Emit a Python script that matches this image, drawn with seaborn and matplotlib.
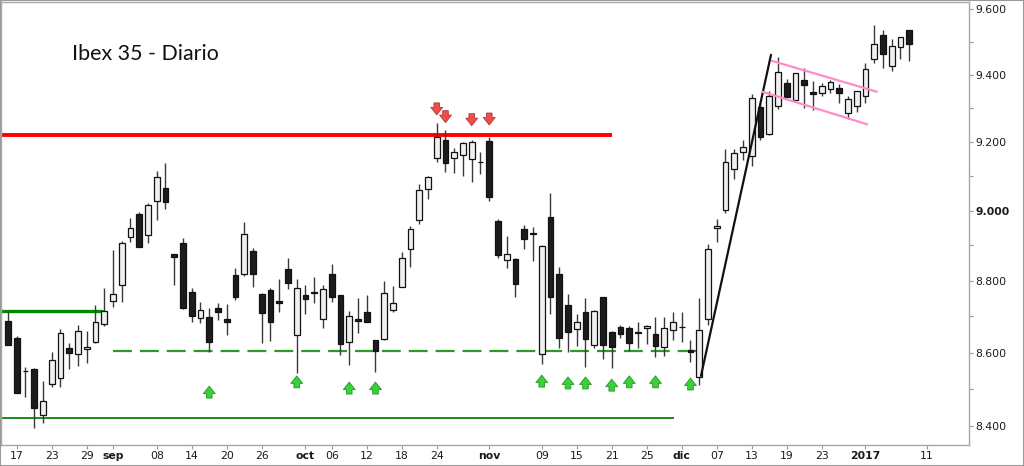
import numpy as np
import pandas as pd
import matplotlib
matplotlib.use("Agg")
import matplotlib.pyplot as plt
import seaborn as sns
from matplotlib.patches import Rectangle
from matplotlib.ticker import FixedLocator, NullFormatter

# ---------------- data ----------------
# trading calendar (Bolsa de Madrid), 26 Dec 2016 closed
calendar = [d for d in pd.bdate_range("2016-08-16", "2017-01-20") if d != pd.Timestamp("2016-12-26")]

opens = [8688, 8641, 8550, 8555, 8429, 8513, 8529, 8612, 8595, 8609,
         8628, 8680, 8744, 8788, 8924, 8990, 8930, 9029, 9064, 8876,
         8906, 8769, 8697, 8699, 8723, 8694, 8815, 8819, 8884, 8764,
         8774, 8744, 8832, 8648, 8760, 8767, 8692, 8820, 8760, 8630,
         8692, 8713, 8635, 8637, 8718, 8783, 8889, 8973, 9062, 9154,
         9206, 9152, 9162, 9149, 9142, 9204, 8971, 8859, 8861, 8948,
         8936, 8595, 8982, 8819, 8731, 8664, 8712, 8621, 8753, 8658,
         8672, 8667, 8656, 8669, 8651, 8615, 8662, 8672, 8607, 8534,
         8692, 8950, 9002, 9120, 9170, 9159, 9304, 9222, 9306, 9375,
         9325, 9384, 9348, 9346, 9357, 9359, 9286, 9307, 9336, 9446,
         9521, 9427, 9483, 9536]
highs = [8715, 8647, 8559, 8557, 8523, 8602, 8664, 8627, 8676, 8659,
         8732, 8780, 8887, 8914, 8979, 8996, 9022, 9114, 9137, 8877,
         8922, 8780, 8741, 8724, 8737, 8734, 8835, 8966, 8894, 8765,
         8779, 8805, 8864, 8805, 8788, 8810, 8788, 8846, 8761, 8715,
         8752, 8760, 8636, 8799, 8785, 8880, 8956, 9076, 9100, 9255,
         9235, 9183, 9201, 9206, 9170, 9214, 8975, 8928, 8865, 8959,
         8952, 8900, 9052, 8838, 8764, 8706, 8752, 8718, 8754, 8660,
         8676, 8674, 8684, 8676, 8699, 8699, 8713, 8712, 8635, 8751,
         8904, 8975, 9178, 9178, 9206, 9342, 9314, 9351, 9453, 9386,
         9405, 9419, 9381, 9375, 9384, 9372, 9336, 9352, 9434, 9551,
         9536, 9507, 9515, 9537]
lows = [8621, 8488, 8479, 8394, 8407, 8507, 8507, 8554, 8563, 8570,
        8626, 8673, 8727, 8741, 8911, 8895, 8906, 8973, 9004, 8788,
        8721, 8684, 8683, 8602, 8690, 8648, 8746, 8813, 8783, 8627,
        8632, 8713, 8776, 8543, 8706, 8738, 8669, 8741, 8593, 8566,
        8655, 8685, 8547, 8635, 8713, 8782, 8840, 8961, 9032, 9142,
        9113, 9108, 9100, 9083, 9106, 9029, 8864, 8835, 8754, 8889,
        8857, 8569, 8706, 8613, 8601, 8619, 8561, 8612, 8582, 8557,
        8639, 8605, 8613, 8623, 8587, 8591, 8635, 8630, 8575, 8511,
        8675, 8911, 8992, 9091, 9147, 9129, 9206, 9220, 9296, 9332,
        9318, 9299, 9294, 9336, 9346, 9315, 9268, 9289, 9314, 9436,
        9419, 9412, 9446, 9441]
closes = [8621, 8488, 8548, 8449, 8467, 8580, 8653, 8599, 8659, 8616,
          8684, 8716, 8762, 8906, 8951, 8897, 9016, 9098, 9024, 8867,
          8723, 8701, 8718, 8630, 8713, 8685, 8755, 8933, 8820, 8710,
          8685, 8738, 8795, 8779, 8750, 8765, 8777, 8755, 8624, 8702,
          8688, 8685, 8605, 8766, 8738, 8864, 8946, 9060, 9098, 9215,
          9138, 9171, 9196, 9199, 9140, 9038, 8873, 8877, 8790, 8918,
          8933, 8899, 8755, 8639, 8656, 8685, 8637, 8716, 8621, 8615,
          8651, 8625, 8655, 8674, 8619, 8667, 8685, 8670, 8602, 8662,
          8891, 8957, 9142, 9166, 9184, 9329, 9214, 9336, 9409, 9333,
          9404, 9369, 9341, 9366, 9377, 9345, 9328, 9351, 9416, 9493,
          9462, 9487, 9514, 9492]

tick_dates = ["2016-08-17", "2016-08-23", "2016-08-29", "2016-09-01", "2016-09-08",
              "2016-09-14", "2016-09-20", "2016-09-26", "2016-10-03", "2016-10-06",
              "2016-10-12", "2016-10-18", "2016-10-24", "2016-11-01", "2016-11-09",
              "2016-11-15", "2016-11-21", "2016-11-25", "2016-12-01", "2016-12-07",
              "2016-12-13", "2016-12-19", "2016-12-23", "2017-01-02", "2017-01-11"]
tick_labels = ["17", "23", "29", "sep", "08", "14", "20", "26", "oct", "06", "12", "18",
               "24", "nov", "09", "15", "21", "25", "dic", "07", "13", "19", "23", "2017", "11"]
bold_labels = {"sep", "oct", "nov", "dic", "2017"}

y_ticks = [8400, 8600, 8800, 9000, 9200, 9400, 9600]
y_minor = [8500, 8700, 8900, 9100, 9300, 9500]

# horizontal support / resistance levels
resistance = 9220
support_top = 8714
support_dashed = 8603
support_low = 8421

# trend and channel lines (bar index, price)
trend_x, trend_y = [79.2, 87.2], [8536, 9460]
chan_up_x, chan_up_y = [87.3, 99.3], [9442, 9349]
chan_lo_x, chan_lo_y = [86.2, 98.2], [9349, 9252]

# arrows (bar index, tip price)
down_idx = [49, 50, 53, 55]
down_tip = [9280, 9257, 9248, 9250]
up_idx = [23, 33, 39, 42, 61, 64, 66, 69, 71, 74, 78]
up_tip = [8508, 8536, 8519, 8519, 8538, 8533, 8533, 8527, 8536, 8536, 8530]

# ---------------- figure ----------------
sns.set_theme(style="white")
plt.rcParams["font.family"] = ["DejaVu Sans"]

W, H = 1024, 466
fig = plt.figure(figsize=(W / 100, H / 100), dpi=100)
ax = fig.add_axes([1 / W, (H - 444.5) / H, 968 / W, (444.5 - 2) / H])

n = len(opens)
idx = np.arange(n)
date_pos = {d.strftime("%Y-%m-%d"): i for i, d in enumerate(calendar)}
o = np.array(opens, float); c = np.array(closes, float)
h = np.array(highs, float); l = np.array(lows, float)

ax.set_yscale("log")
ax.set_xlim(-0.8, 109.83)
ax.set_ylim(8350.5, 9621.5)

# levels
xl = -0.8
ax.hlines(resistance, xl, 69.0, color="#ff0000", lw=2.8, zorder=2)
ax.hlines(support_top, xl, 10.9, color="#008a00", lw=2.4, zorder=2)
ax.hlines(support_low, xl, 76.1, color="#1a8c1a", lw=1.4, zorder=2)
ax.hlines(support_dashed, 12.0, 78.7, color="#2a9a2a", lw=1.6,
          linestyles=(0, (8.5, 3.6)), zorder=2)

# candles
ax.vlines(idx, l, h, color="#3a3a3a", lw=1.0, zorder=3)
up = c >= o
body_bot = np.minimum(o, c)
body_h = np.maximum(np.abs(c - o), 1.5)
ax.bar(idx[up], body_h[up], bottom=body_bot[up], width=0.68, color="#f0f0f0",
       edgecolor="#111111", lw=0.9, zorder=4)
ax.bar(idx[~up], body_h[~up], bottom=body_bot[~up], width=0.68, color="#1c1c1c",
       edgecolor="#111111", lw=0.9, zorder=4)

# trend lines
sns.lineplot(x=trend_x, y=trend_y, ax=ax, color="#111111", lw=1.6, zorder=5)
sns.lineplot(x=chan_up_x, y=chan_up_y, ax=ax, color="#ff8cc8", lw=1.6, zorder=5)
sns.lineplot(x=chan_lo_x, y=chan_lo_y, ax=ax, color="#ff8cc8", lw=1.6, zorder=5)

# arrows
astyle = "simple,head_width=0.95,head_length=0.6,tail_width=0.45"
for i, p in zip(down_idx, down_tip):
    ax.annotate("", xy=(i, p), xytext=(0, 8.6), textcoords="offset points",
                arrowprops=dict(arrowstyle=astyle, mutation_scale=9,
                                fc="#e85050", ec="#c03030", lw=0.6,
                                shrinkA=0, shrinkB=0), zorder=6)
for i, p in zip(up_idx, up_tip):
    ax.annotate("", xy=(i, p), xytext=(0, -8.6), textcoords="offset points",
                arrowprops=dict(arrowstyle=astyle, mutation_scale=9,
                                fc="#3ccf3c", ec="#229922", lw=0.6,
                                shrinkA=0, shrinkB=0), zorder=6)

# axes styling
ax.yaxis.tick_right()
ax.yaxis.set_major_locator(FixedLocator(y_ticks))
ax.yaxis.set_minor_locator(FixedLocator(y_minor))
ax.yaxis.set_minor_formatter(NullFormatter())
ax.set_yticklabels([f"{v:,}".replace(",", ".") for v in y_ticks])
for t in ax.get_yticklabels():
    if t.get_text() == "9.000":
        t.set_fontweight("bold")

ax.set_xticks([date_pos[d] for d in tick_dates])
ax.set_xticklabels(tick_labels)
for t in ax.get_xticklabels():
    if t.get_text() in bold_labels:
        t.set_fontweight("bold")

ax.tick_params(axis="both", which="both", direction="out", length=3, width=0.8,
               color="#9a9a9a", labelsize=7.8, labelcolor="#1a1a1a", pad=1.5)
ax.tick_params(axis="y", which="both", right=True, left=False)
ax.tick_params(axis="x", bottom=True, pad=2)
for s in ax.spines.values():
    s.set_color("#a8a8a8")
    s.set_linewidth(1.0)
ax.set_xlabel("")
ax.set_ylabel("")
ax.grid(False)

fig.text(72 / W, 1 - 60 / H, "Ibex 35 - Diario", fontsize=15.4, family=["Lato", "DejaVu Sans"],
         color="#111111", va="baseline", ha="left")

fig.patches.append(Rectangle((0, 0), 1, 1, transform=fig.transFigure, fill=False,
                             edgecolor="#9a9a9a", lw=1.5))

fig.savefig("out.png", dpi=100)
